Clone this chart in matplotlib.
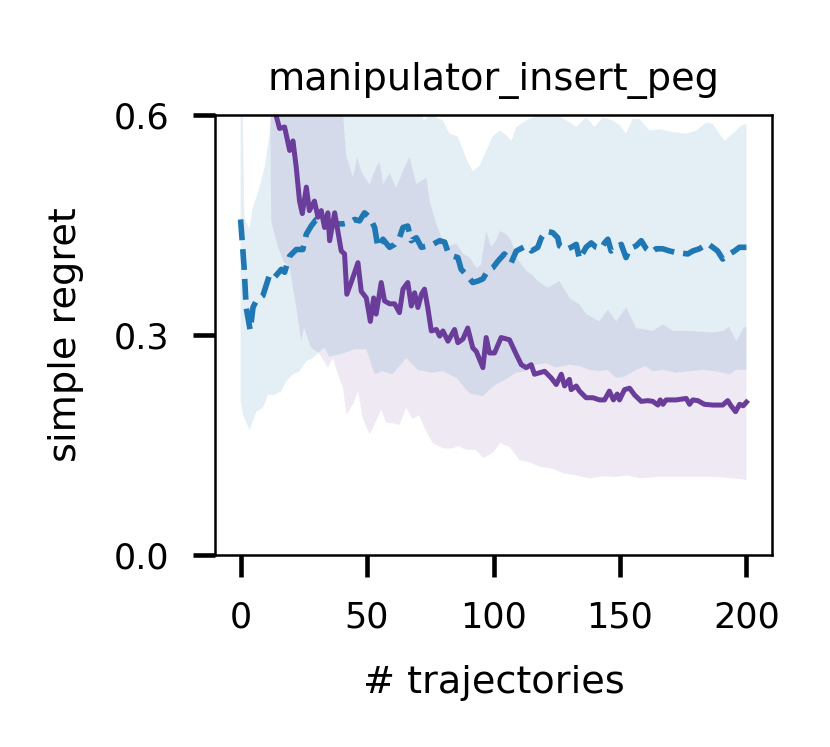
import matplotlib
matplotlib.use("Agg")
import matplotlib.pyplot as plt
import numpy as np

# mean curves
blue_x = [0, 1.4, 2.2, 3.8, 4.9, 6.2, 8.8, 11.5, 13.4, 16.1, 17.4, 19.4, 22, 24.6, 26, 27.9, 29.9, 32.5,
          35.2, 37.8, 40.5, 43.1, 45.1, 47, 49, 51, 53, 54.3, 56.3, 58.9, 60.9, 62.8, 64.2, 66.1, 67.5,
          69.5, 71.5, 74, 76, 78.7, 80.7, 82, 84, 85.9, 87.2, 89.2, 91.8, 93.8, 95.8, 97.7, 99.7, 101.7,
          104.3, 107, 109, 113, 115, 117.5, 118.9, 120.8, 123.4, 125.4, 126.1, 128.7, 130.7, 132.7, 134,
          136.6, 138.6, 140.6, 142.6, 143.9, 145.2, 146.5, 148.5, 150.5, 152.4, 153.8, 156.4, 158.4,
          160.4, 162.3, 164.3, 166.9, 169.6, 172.2, 176.8, 178.8, 181.4, 184.7, 186.7, 188.6, 190.6,
          193.3, 195.3, 197.2, 200]
blue_y = [0.457, 0.391, 0.337, 0.306, 0.337, 0.346, 0.353, 0.382, 0.378, 0.389, 0.385, 0.407, 0.416,
          0.416, 0.437, 0.448, 0.457, 0.457, 0.451, 0.451, 0.451, 0.453, 0.457, 0.455, 0.466, 0.460,
          0.446, 0.419, 0.430, 0.419, 0.423, 0.432, 0.446, 0.448, 0.428, 0.432, 0.419, 0.421, 0.423,
          0.428, 0.426, 0.412, 0.407, 0.405, 0.389, 0.382, 0.371, 0.373, 0.376, 0.387, 0.391, 0.400,
          0.410, 0.398, 0.414, 0.421, 0.414, 0.419, 0.432, 0.441, 0.439, 0.432, 0.421, 0.416, 0.419,
          0.423, 0.403, 0.419, 0.425, 0.419, 0.417, 0.425, 0.430, 0.414, 0.419, 0.423, 0.405, 0.417,
          0.421, 0.428, 0.417, 0.412, 0.417, 0.417, 0.414, 0.412, 0.410, 0.414, 0.417, 0.424, 0.419,
          0.414, 0.403, 0.410, 0.414, 0.419, 0.419]

purple_x = [11.5, 14.1, 15.4, 17.4, 19.4, 20.7, 22, 23.3, 24.4, 26, 27.2, 29.2, 30.6, 31.9, 33.2, 34.5,
            35.2, 37.2, 39.8, 41.1, 42, 43.7, 46.4, 47.7, 49.7, 51.3, 52.6, 53.6, 55.6, 56.9, 58.9,
            60.9, 62.8, 64.2, 66.1, 67.5, 68.8, 70.1, 71.5, 72.7, 74, 75.4, 77.4, 78.7, 80, 82, 84.6,
            85.9, 87.9, 89.8, 91.8, 93.2, 95.8, 97.1, 98.4, 100.4, 103, 106.3, 109, 111, 112.9, 114.9,
            116.2, 118.2, 120.2, 122.8, 124.8, 126.8, 128.1, 130, 130.7, 132.7, 134, 136.6, 139.3,
            141.9, 143.9, 145.8, 147.4, 148.9, 149.8, 151.8, 153.8, 155.7, 158.4, 161, 163, 165,
            165.9, 167, 168.2, 172.2, 176.2, 177.5, 178.8, 180.8, 183.4, 186.7, 190.6, 192.6, 193.9,
            195.7, 197.3, 198.7, 200]
purple_y = [0.66, 0.598, 0.581, 0.583, 0.551, 0.564, 0.528, 0.482, 0.465, 0.501, 0.469, 0.482, 0.460,
            0.469, 0.446, 0.466, 0.428, 0.466, 0.414, 0.410, 0.355, 0.371, 0.398, 0.359, 0.350, 0.318,
            0.350, 0.328, 0.371, 0.346, 0.342, 0.342, 0.330, 0.362, 0.371, 0.339, 0.357, 0.337, 0.355,
            0.362, 0.337, 0.305, 0.307, 0.298, 0.305, 0.291, 0.307, 0.289, 0.294, 0.309, 0.282, 0.277,
            0.255, 0.296, 0.275, 0.275, 0.296, 0.293, 0.273, 0.259, 0.255, 0.259, 0.246, 0.248, 0.250,
            0.241, 0.232, 0.246, 0.230, 0.239, 0.225, 0.230, 0.223, 0.214, 0.214, 0.211, 0.211, 0.223,
            0.211, 0.219, 0.211, 0.225, 0.227, 0.218, 0.209, 0.210, 0.209, 0.204, 0.211, 0.205, 0.211,
            0.211, 0.213, 0.205, 0.211, 0.210, 0.205, 0.204, 0.204, 0.210, 0.203, 0.195, 0.205, 0.203,
            0.208]

# band edges
blue_up_x = [0, 0.8, 1.5, 3.5, 4.8, 7.5, 9.5, 11.5, 12.5, 40, 70, 72.4, 75, 78, 80, 82.6, 85.9, 88,
             89.8, 91.8, 94.5, 97.1, 99.7, 102.4, 105, 107, 109, 113, 115.6, 118, 120, 123, 127, 130,
             132.7, 136.6, 139.9, 143.2, 147, 150, 152.4, 155, 157.7, 161.7, 165.6, 170.9, 176.2,
             180.1, 184.1, 186.7, 189.3, 191.3, 193.9, 195.9, 197.9, 200]
blue_up_y = [0.65, 0.62, 0.46, 0.444, 0.473, 0.501, 0.528, 0.574, 0.62, 0.65, 0.62, 0.592, 0.60,
             0.595, 0.592, 0.574, 0.570, 0.551, 0.535, 0.523, 0.530, 0.551, 0.570, 0.578, 0.572,
             0.564, 0.583, 0.592, 0.596, 0.60, 0.61, 0.605, 0.595, 0.59, 0.583, 0.596, 0.583, 0.596,
             0.592, 0.585, 0.574, 0.594, 0.594, 0.578, 0.580, 0.576, 0.574, 0.578, 0.589, 0.587,
             0.574, 0.564, 0.572, 0.578, 0.585, 0.587]
blue_lo_x = [0, 1, 3.6, 6.2, 8.8, 10.8, 13.4, 16.1, 18, 20.7, 23.3, 26, 28.6, 31.3, 33.2, 35, 38, 41,
             45, 49.7, 53, 56, 60, 65.5, 70, 75.4, 80, 85.3, 90.5, 95.8, 98.4, 101, 104.9, 108.9,
             112.9, 116.8, 120.8, 124.7, 130, 134, 138, 141.9, 145, 148.5, 152, 156.4, 160, 163,
             166.9, 172.2, 177, 182.7, 188, 193.3, 196, 200]
blue_lo_y = [0.21, 0.19, 0.170, 0.195, 0.200, 0.218, 0.218, 0.223, 0.236, 0.246, 0.25, 0.264, 0.268,
             0.277, 0.282, 0.27, 0.272, 0.275, 0.28, 0.280, 0.246, 0.25, 0.246, 0.268, 0.252, 0.248,
             0.25, 0.241, 0.220, 0.216, 0.225, 0.232, 0.239, 0.248, 0.250, 0.259, 0.261, 0.255, 0.259,
             0.257, 0.252, 0.25, 0.252, 0.241, 0.243, 0.252, 0.257, 0.25, 0.252, 0.248, 0.25, 0.252,
             0.25, 0.246, 0.252, 0.252]

purple_up_x = [11.5, 40, 40.5, 41.8, 44.5, 46, 48, 51, 53.6, 55, 56.3, 59, 61.5, 64.8, 66.8, 69.5,
               73.5, 74.7, 77.4, 80, 82.6, 85.3, 88, 90.5, 93.2, 95, 97.1, 99, 101, 102.4, 105, 107,
               109, 113, 115.6, 117.5, 121.5, 126.1, 130, 134, 136.6, 141.9, 145.2, 148.5, 152.4,
               156.4, 163, 167, 171, 176.2, 181.4, 186.7, 191, 193, 196, 199, 200]
purple_up_y = [0.7, 0.68, 0.6, 0.542, 0.514, 0.542, 0.52, 0.505, 0.528, 0.535, 0.505, 0.52, 0.50,
               0.528, 0.542, 0.505, 0.514, 0.482, 0.451, 0.428, 0.421, 0.424, 0.410, 0.405, 0.391,
               0.395, 0.441, 0.42, 0.428, 0.441, 0.437, 0.428, 0.405, 0.387, 0.38, 0.373, 0.364,
               0.373, 0.350, 0.341, 0.328, 0.318, 0.334, 0.318, 0.337, 0.309, 0.305, 0.314, 0.305,
               0.305, 0.304, 0.303, 0.305, 0.311, 0.291, 0.31, 0.31]
purple_lo_x = [11.5, 12.1, 14.8, 17, 19.4, 20.7, 22, 24, 25, 27.9, 31, 34.5, 36.5, 38.5, 40.5, 41.8,
               44.5, 46.4, 48.3, 51, 53.6, 55.6, 57.6, 60.2, 62.8, 65.5, 68, 70.5, 73.4, 76, 80, 84,
               86, 89.2, 93, 95.8, 98.4, 100, 102.6, 106.3, 110.3, 114.3, 118.2, 123.5, 127.5, 132.7,
               138, 143, 148, 153, 158, 165, 172, 180, 188, 195, 200]
purple_lo_y = [0.7, 0.455, 0.419, 0.40, 0.391, 0.364, 0.337, 0.291, 0.31, 0.282, 0.275, 0.255, 0.268,
               0.246, 0.227, 0.191, 0.205, 0.223, 0.186, 0.164, 0.182, 0.198, 0.18, 0.179, 0.177,
               0.200, 0.185, 0.19, 0.168, 0.152, 0.145, 0.145, 0.148, 0.143, 0.143, 0.132, 0.136,
               0.14, 0.152, 0.147, 0.129, 0.126, 0.120, 0.117, 0.111, 0.108, 0.104, 0.107, 0.106,
               0.108, 0.104, 0.106, 0.106, 0.106, 0.106, 0.104, 0.102]

blue = '#1f78b4'
purple = '#6a3d9a'

fig = plt.figure(figsize=(830 / 300, 747 / 300), dpi=300)
ax = fig.add_axes([0.2594, 0.2574, 0.6704, 0.5893])

ax.fill(np.r_[blue_up_x, blue_lo_x[::-1]], np.r_[blue_up_y, blue_lo_y[::-1]],
        color=blue, alpha=0.12, lw=0)
ax.fill(np.r_[purple_up_x, purple_lo_x[::-1]], np.r_[purple_up_y, purple_lo_y[::-1]],
        color=purple, alpha=0.11, lw=0)
ax.plot(blue_x, blue_y, '--', color=blue, lw=1.35)
ax.plot(purple_x, purple_y, '-', color=purple, lw=1.2)

ax.set_xlim(-10, 210)
ax.set_ylim(0, 0.6)
ax.set_xticks([0, 50, 100, 150, 200])
ax.set_yticks([0, 0.3, 0.6])
ax.set_yticklabels(['0.0', '0.3', '0.6'])
ax.tick_params(length=5.3, width=1.1, labelsize=8.4, pad=5.8)
for s in ax.spines.values():
    s.set_linewidth(0.6)

ax.set_title('manipulator_insert_peg', fontsize=9.2)
ax.set_xlabel('# trajectories', fontsize=9.2, labelpad=7.2)
ax.set_ylabel('simple regret', fontsize=9.2, labelpad=7)

fig.savefig('out.png', dpi=300)
